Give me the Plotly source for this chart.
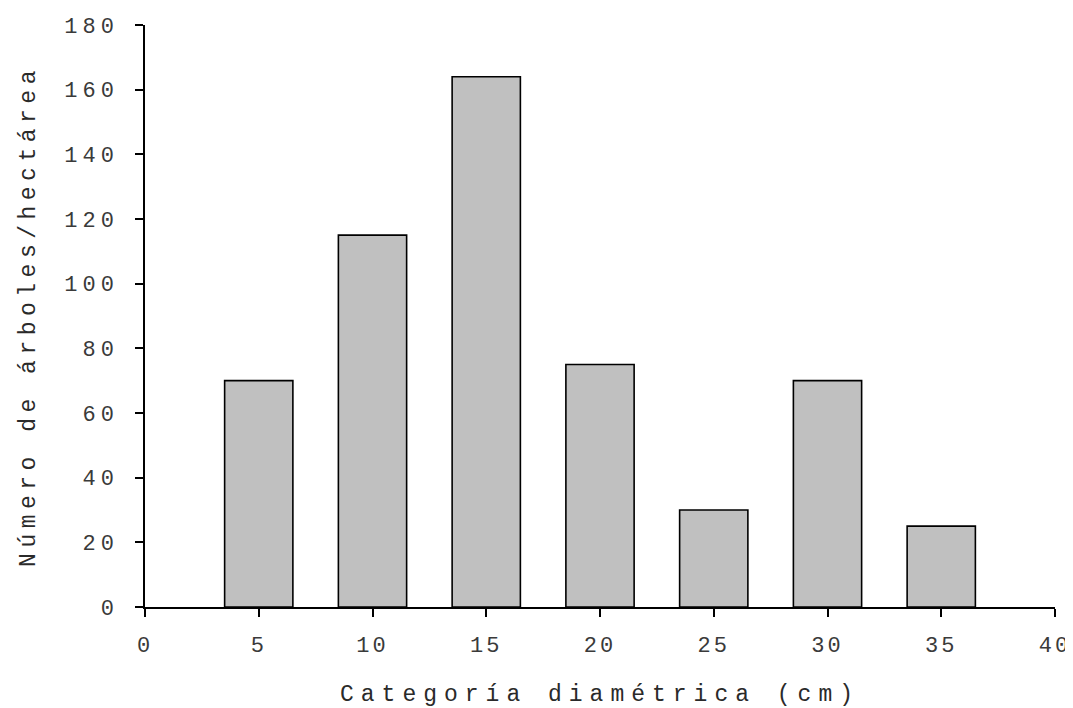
import plotly.graph_objects as go

categories = [5, 10, 15, 20, 25, 30, 35]
values = [70, 115, 164, 75, 30, 70, 25]
x_ticks = [0, 5, 10, 15, 20, 25, 30, 35, 40]
y_ticks = [0, 20, 40, 60, 80, 100, 120, 140, 160, 180]
x_title = "Categoría diamétrica (cm)"
y_title = "Número de árboles/hectárea"

FONT = "Liberation Mono, Courier New, monospace"

def spaced(s, px):
    return f'<span style="letter-spacing:{px}px">{s}</span>'

fig = go.Figure(go.Bar(
    x=categories, y=values, width=3,
    marker=dict(color="#c0c0c0", line=dict(color="#000000", width=1.6)),
))

# page body has an 8px margin, so the figure is drawn 8px in from the top-left
fig.update_layout(
    width=1065, height=700,
    margin=dict(l=137, r=18, t=17, b=101, autoexpand=False),
    plot_bgcolor="white", paper_bgcolor="white",
    showlegend=False,
    font=dict(family=FONT, color="#333333"),
)
fig.update_xaxes(
    range=[0, 40], tickmode="array", tickvals=x_ticks,
    ticktext=[spaced(str(t), 3) for t in x_ticks],
    showgrid=False, zeroline=False, showline=True, linecolor="black", linewidth=1.5,
    ticks="outside", ticklen=8, tickwidth=1.5, tickcolor="black",
    tickfont=dict(family=FONT, size=22, color="#3a3a3a"),
    ticklabelstandoff=9, automargin=False,
    title=dict(text=spaced(x_title, 7), font=dict(family=FONT, size=23, color="#2a2a2a"), standoff=30),
)
fig.update_yaxes(
    range=[0, 180], tickmode="array", tickvals=y_ticks,
    ticktext=[spaced(str(t), 5) for t in y_ticks],
    showgrid=False, zeroline=False, showline=True, linecolor="black", linewidth=1.5,
    ticks="outside", ticklen=8, tickwidth=1.5, tickcolor="black",
    tickfont=dict(family=FONT, size=22, color="#3a3a3a"),
    ticklabelstandoff=12, automargin=False,
    title=dict(text=spaced(y_title, 5.5), font=dict(family=FONT, size=23, color="#2a2a2a"), standoff=22),
)

fig.write_html("out.html")
